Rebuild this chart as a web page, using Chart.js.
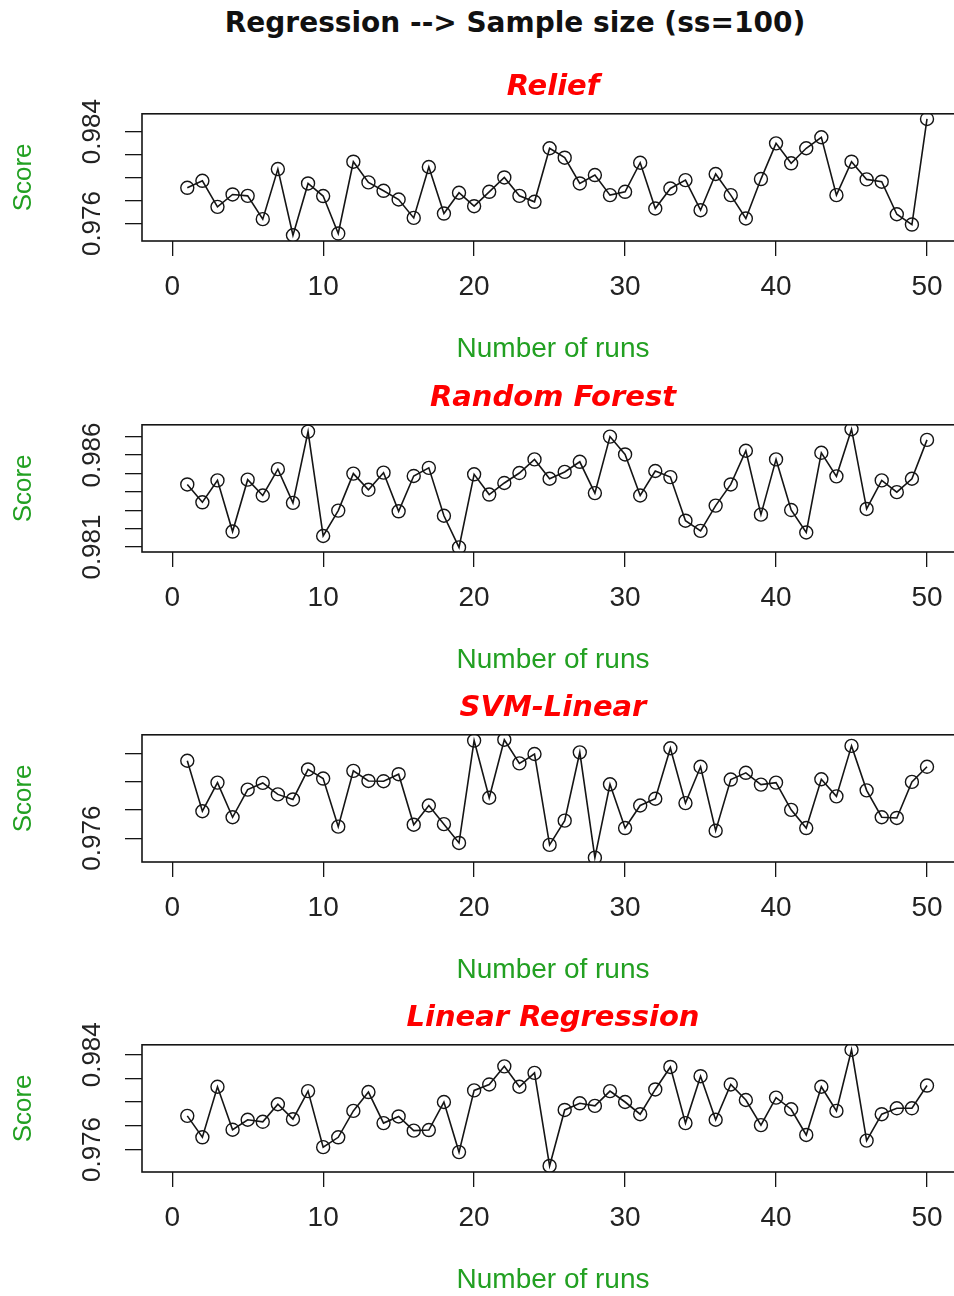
<!DOCTYPE html>
<html>
<head>
<meta charset="utf-8">
<script src="https://cdn.jsdelivr.net/npm/chart.js@4.4.1/dist/chart.umd.min.js"></script>
<style>
	html, body { margin: 0; padding: 0; background: #fff; overflow: hidden; width: 954px; height: 1296px; }
	.main_title {
		position: absolute; left: 0; top: 6px; width: 1030px;
		text-align: center; font: bold 28px "DejaVu Sans"; line-height: 34px; color: #111;
	}
	.panel { position: absolute; left: 0; }
</style>
</head>
<body>
<div class="main_title">Regression --&gt; Sample size (ss=100)</div>
<canvas id="panel_relief" class="panel" width="964" height="310"></canvas>
<canvas id="panel_random_forest" class="panel" width="964" height="310"></canvas>
<canvas id="panel_svm_linear" class="panel" width="964" height="310"></canvas>
<canvas id="panel_linear_regression" class="panel" width="964" height="310"></canvas>
<script>
"use strict";

// data
const runs = [1,2,3,4,5,6,7,8,9,10,11,12,13,14,15,16,17,18,19,20,21,22,23,24,25,
	26,27,28,29,30,31,32,33,34,35,36,37,38,39,40,41,42,43,44,45,46,47,48,49,50]

const x_tick_values = [0, 10, 20, 30, 40, 50]

const relief_scores = [
	0.97911, 0.97972, 0.97745, 0.97853, 0.97841, 0.97638, 0.98074, 0.97498, 0.97949, 0.97839,
	0.97513, 0.98138, 0.97958, 0.97885, 0.97809, 0.97649, 0.98092, 0.97687, 0.97868, 0.97751,
	0.97876, 0.98001, 0.97841, 0.97789, 0.98255, 0.98173, 0.97949, 0.98022, 0.97847, 0.97876,
	0.98129, 0.97731, 0.97905, 0.97978, 0.97716, 0.98031, 0.97847, 0.97644, 0.97987, 0.98298,
	0.98124, 0.98255, 0.98351, 0.97847, 0.98138, 0.97984, 0.97964, 0.97681, 0.97591, 0.98510]

const random_forest_scores = [
	0.98440, 0.98343, 0.98462, 0.98184, 0.98466, 0.98380, 0.98523, 0.98340, 0.98727, 0.98160,
	0.98298, 0.98499, 0.98411, 0.98504, 0.98294, 0.98486, 0.98530, 0.98270, 0.98098, 0.98495,
	0.98385, 0.98448, 0.98502, 0.98576, 0.98471, 0.98508, 0.98563, 0.98393, 0.98700, 0.98603,
	0.98380, 0.98513, 0.98480, 0.98243, 0.98188, 0.98325, 0.98440, 0.98623, 0.98276, 0.98576,
	0.98301, 0.98179, 0.98612, 0.98484, 0.98740, 0.98307, 0.98462, 0.98398, 0.98471, 0.98682]

const svm_linear_scores = [
	0.98152, 0.97792, 0.97996, 0.97749, 0.97946, 0.97994, 0.97912, 0.97876, 0.98090, 0.98025,
	0.97682, 0.98080, 0.98008, 0.98006, 0.98056, 0.97696, 0.97833, 0.97700, 0.97566, 0.98296,
	0.97888, 0.98302, 0.98133, 0.98200, 0.97552, 0.97725, 0.98212, 0.97461, 0.97984, 0.97672,
	0.97833, 0.97881, 0.98241, 0.97850, 0.98109, 0.97653, 0.98018, 0.98066, 0.97982, 0.97996,
	0.97802, 0.97672, 0.98020, 0.97898, 0.98258, 0.97941, 0.97749, 0.97744, 0.98001, 0.98109]

const linear_regression_scores = [
	0.97884, 0.97703, 0.98130, 0.97767, 0.97851, 0.97834, 0.97982, 0.97856, 0.98093, 0.97620,
	0.97703, 0.97926, 0.98085, 0.97823, 0.97879, 0.97759, 0.97764, 0.98001, 0.97578, 0.98099,
	0.98149, 0.98302, 0.98130, 0.98247, 0.97461, 0.97934, 0.97990, 0.97968, 0.98093, 0.98001,
	0.97898, 0.98107, 0.98297, 0.97823, 0.98219, 0.97851, 0.98149, 0.98018, 0.97806, 0.98038,
	0.97940, 0.97723, 0.98130, 0.97926, 0.98442, 0.97675, 0.97898, 0.97948, 0.97948, 0.98140]

// y ticks (all get a tick mark, only the listed labels are written)
const relief_y_ticks = [0.976, 0.978, 0.980, 0.982, 0.984]
const relief_y_labels = [0.976, 0.984]
const random_forest_y_ticks = [0.981, 0.982, 0.983, 0.984, 0.985, 0.986, 0.987]
const random_forest_y_labels = [0.981, 0.986]
const svm_linear_y_ticks = [0.976, 0.978, 0.980, 0.982]
const svm_linear_y_labels = [0.976]
const linear_regression_y_ticks = [0.976, 0.978, 0.980, 0.982, 0.984]
const linear_regression_y_labels = [0.976, 0.984]


const GREEN = '#22a022'
const RED = '#ff0000'
const INK = '#151515'


// plugin: R style box around plot region
const box_plugin = {
	id: 'box',
	afterDraw(chart) {
		const ctx = chart.ctx
		const a = chart.chartArea
		ctx.save()
		ctx.strokeStyle = INK
		ctx.lineWidth = 1.6
		ctx.strokeRect(a.left, a.top, a.right - a.left, a.bottom - a.top)
		ctx.restore()
	}
}

// plugin: rotated y tick labels (reads bottom to top)
const y_labels_plugin = {
	id: 'y_labels',
	afterDraw(chart, args, opts) {
		const ctx = chart.ctx
		const y_scale = chart.scales.y
		ctx.save()
		ctx.fillStyle = '#222'
		ctx.font = '26px "Liberation Sans"'
		ctx.textAlign = 'center'
		ctx.textBaseline = 'alphabetic'
		;(opts.labels || []).forEach(value => {
			const py = y_scale.getPixelForValue(value)
			ctx.save()
			ctx.translate(opts.x, py)
			ctx.rotate(-Math.PI / 2)
			ctx.fillText(value.toFixed(3), 0, 0)
			ctx.restore()
		})
		ctx.restore()
	}
}


function build_panel(options) {

	const points = runs.map((run, i) => ({x: run, y: options.scores[i]}))

	return new Chart(options.canvas, {
		type: 'line',
		data: {
			datasets: [{
				data: points,
				borderColor: INK,
				borderWidth: 1.6,
				pointRadius: 6.5,
				pointBorderWidth: 1.4,
				pointBorderColor: INK,
				pointBackgroundColor: 'rgba(0,0,0,0)',
				tension: 0
			}]
		},
		options: {
			responsive: false,
			animation: false,
			layout: { padding: 0, autoPadding: false },
			plugins: {
				legend: { display: false },
				tooltip: { enabled: false },
				title: {
					display: true,
					fullSize: false,
					text: options.title,
					color: RED,
					font: { family: 'DejaVu Sans', size: 29, weight: 'bold', style: 'italic' },
					padding: { top: 10, bottom: 9 }
				},
				y_labels: { labels: options.y_labels, x: 100 }
			},
			scales: {
				x: {
					type: 'linear',
					min: -2,
					max: 52.45,
					afterFit: (scale) => { scale.height = 129 },
					afterBuildTicks: (scale) => { scale.ticks = x_tick_values.map(v => ({value: v})) },
					grid: { drawOnChartArea: false, drawTicks: true, tickLength: 15, color: INK, lineWidth: 1.3 },
					border: { display: false },
					ticks: {
						color: '#222',
						font: { family: 'Liberation Sans', size: 28 },
						padding: 14,
						maxRotation: 0,
						autoSkip: false
					},
					title: {
						display: true,
						text: 'Number of runs',
						color: GREEN,
						font: { family: 'Liberation Sans', size: 28 },
						padding: { top: 0, bottom: 4 }
					}
				},
				y: {
					min: options.y_min,
					max: options.y_max,
					afterFit: (scale) => { scale.width = 142 },
					afterBuildTicks: (scale) => { scale.ticks = options.y_ticks.map(v => ({value: v})) },
					grid: { drawOnChartArea: false, drawTicks: true, tickLength: 17, color: INK, lineWidth: 1.3 },
					border: { display: false },
					ticks: { display: false },
					title: {
						display: true,
						text: 'Score',
						color: GREEN,
						font: { family: 'Liberation Sans', size: 26 },
						padding: { top: 8, bottom: 0 }
					}
				}
			}
		},
		plugins: [box_plugin, y_labels_plugin]
	})
}


// panels
const panel_tops = [60, 371, 681, 991]

const panels = [
	{ id: 'panel_relief', title: 'Relief', scores: relief_scores,
		y_ticks: relief_y_ticks, y_labels: relief_y_labels, y_min: 0.97448, y_max: 0.98555 },
	{ id: 'panel_random_forest', title: 'Random Forest', scores: random_forest_scores,
		y_ticks: random_forest_y_ticks, y_labels: random_forest_y_labels, y_min: 0.98073, y_max: 0.98764 },
	{ id: 'panel_svm_linear', title: 'SVM-Linear', scores: svm_linear_scores,
		y_ticks: svm_linear_y_ticks, y_labels: svm_linear_y_labels, y_min: 0.97430, y_max: 0.98337 },
	{ id: 'panel_linear_regression', title: 'Linear Regression', scores: linear_regression_scores,
		y_ticks: linear_regression_y_ticks, y_labels: linear_regression_y_labels, y_min: 0.97410, y_max: 0.98484 }
]

panels.forEach((panel, k) => {
	const canvas = document.getElementById(panel.id)
	canvas.style.top = panel_tops[k] + 'px'
	panel.canvas = canvas
	build_panel(panel)
})
</script>
</body>
</html>
